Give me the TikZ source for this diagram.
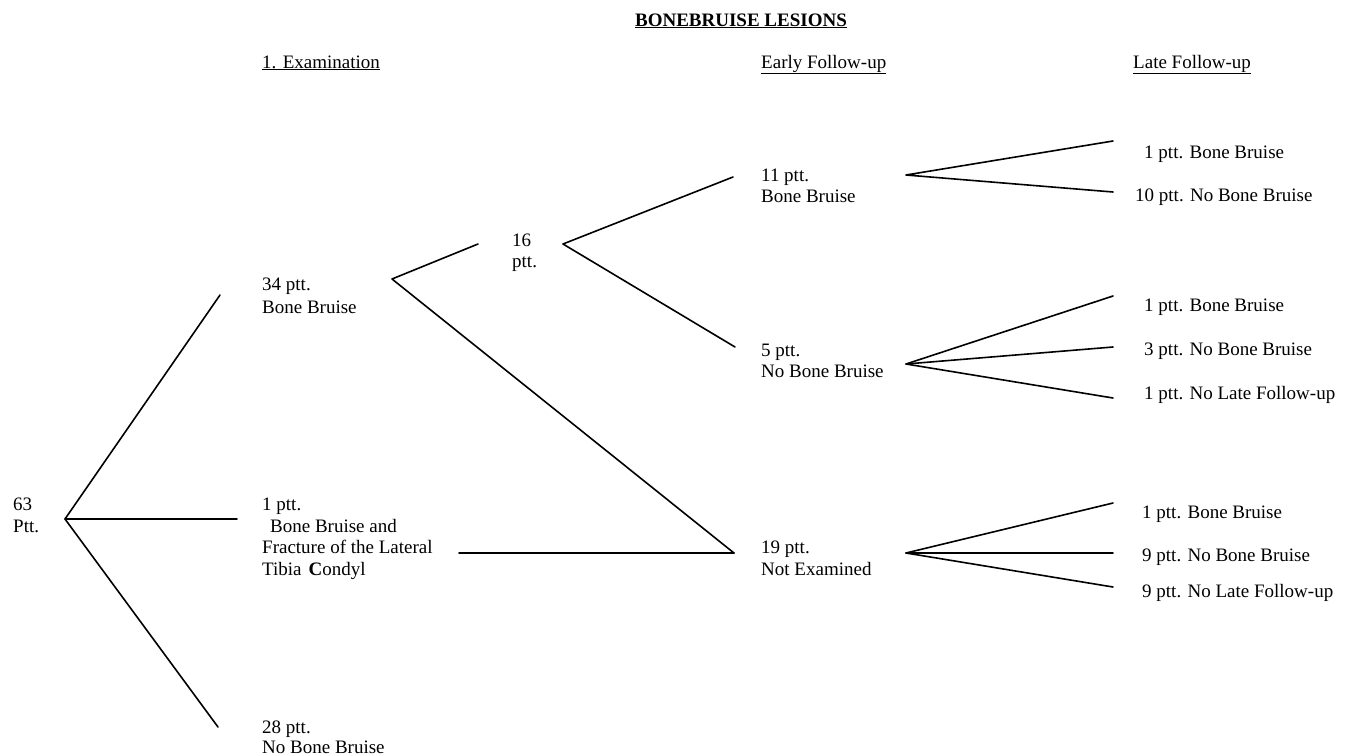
\documentclass[tikz,border=0pt]{standalone}
\usepackage{fontspec}
\setmainfont{Liberation Serif}
\begin{document}
\begin{tikzpicture}[x=1pt,y=-1pt,
  lbl/.style={anchor=base west,inner sep=0pt,font=\fontsize{19}{22}\selectfont},
  ttl/.style={anchor=base,inner sep=0pt,font=\fontsize{19}{22}\selectfont\bfseries},
  branch/.style={line width=1.6pt,line cap=round,line join=round}]
\useasboundingbox (0,0) rectangle (1348,755);
% headings
\node[ttl] (title) at (741,26) {\underline{BONEBRUISE LESIONS}};
\node[lbl] (h1) at (262,68) {\underline{1. Examination}};
\node[lbl] (h2) at (761,68) {\underline{Early Follow-up}};
\node[lbl] (h3) at (1133,68) {\underline{Late Follow-up}};
% labels
\node[lbl] (r1) at (13,510) {63};
\node[lbl] (r2) at (13,532) {Ptt.};
\node[lbl] (a1) at (262,290) {34 ptt.};
\node[lbl] (a2) at (262,313) {Bone Bruise};
\node[lbl] (b1) at (262,510) {1 ptt.};
\node[lbl] (b2) at (270,532) {Bone Bruise and};
\node[lbl] (b3) at (262,553) {Fracture of the Lateral};
\node[lbl] (b4) at (262,575) {Tibia\hspace{7pt}\textbf{C}ondyl};
\node[lbl] (c1) at (262,733) {28 ptt.};
\node[lbl] (c2) at (262,753) {No Bone Bruise};
\node[lbl] (s1) at (512,246) {16};
\node[lbl] (s2) at (512,267) {ptt.};
\node[lbl] (d1) at (761,181) {11 ptt.};
\node[lbl] (d2) at (761,202) {Bone Bruise};
\node[lbl] (f1) at (761,356) {5 ptt.};
\node[lbl] (f2) at (761,377) {No Bone Bruise};
\node[lbl] (g1) at (761,553) {19 ptt.};
\node[lbl] (g2) at (761,575) {Not Examined};
\node[lbl] (l1) at (1144,158) {1 ptt. Bone Bruise};
\node[lbl] (l2) at (1135,201) {10 ptt. No Bone Bruise};
\node[lbl] (l3) at (1144,311) {1 ptt. Bone Bruise};
\node[lbl] (l4) at (1144,355) {3 ptt. No Bone Bruise};
\node[lbl] (l5) at (1144,399) {1 ptt. No Late Follow-up};
\node[lbl] (l6) at (1142,518) {1 ptt. Bone Bruise};
\node[lbl] (l7) at (1142,561) {9 ptt. No Bone Bruise};
\node[lbl] (l8) at (1142,597) {9 ptt. No Late Follow-up};
% branch points
\coordinate (v0) at (65,519);
\coordinate (e1) at (220,295);
\coordinate (e2) at (237,519);
\coordinate (e3) at (218,727);
\coordinate (v34) at (392,279);
\coordinate (e16) at (478,244);
\coordinate (v16) at (563,244);
\coordinate (e11) at (733,177);
\coordinate (e5) at (735,347);
\coordinate (e19) at (734,553);
\coordinate (hb) at (459,553);
\coordinate (v11) at (906,175);
\coordinate (t1) at (1113,141);
\coordinate (t2) at (1113,192);
\coordinate (v5) at (906,364);
\coordinate (t3) at (1113,296);
\coordinate (t4) at (1113,347);
\coordinate (t5) at (1113,398);
\coordinate (v19) at (906,553);
\coordinate (t6) at (1113,503);
\coordinate (t7) at (1113,553);
\coordinate (t8) at (1113,587);
% connectors
\draw[branch] (e1) -- (v0) -- (e3);
\draw[branch] (v0) -- (e2);
\draw[branch] (e16) -- (v34) -- (e19);
\draw[branch] (hb) -- (e19);
\draw[branch] (e11) -- (v16) -- (e5);
\draw[branch] (t1) -- (v11) -- (t2);
\draw[branch] (t3) -- (v5) -- (t5);
\draw[branch] (v5) -- (t4);
\draw[branch] (t6) -- (v19) -- (t8);
\draw[branch] (v19) -- (t7);
\end{tikzpicture}
\end{document}
